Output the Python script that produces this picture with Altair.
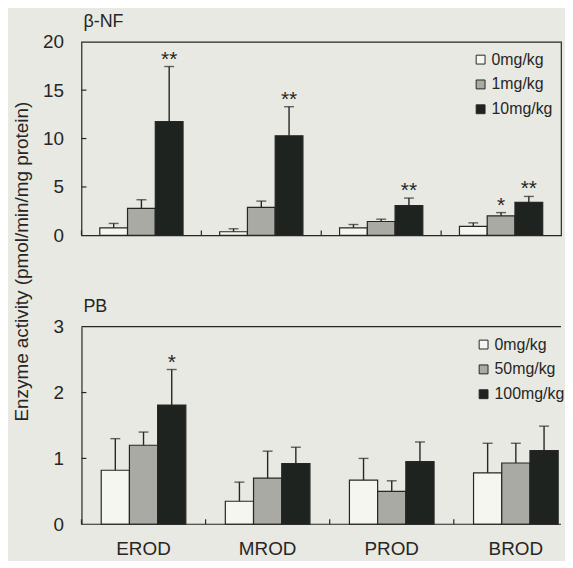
import altair as alt
import pandas as pd

categories = ["EROD", "MROD", "PROD", "BROD"]

# beta-NF panel
bnf_doses = ["0mg/kg", "1mg/kg", "10mg/kg"]
bnf_mean_0 = [0.78, 0.37, 0.78, 0.92]
bnf_mean_1 = [2.79, 2.90, 1.43, 2.01]
bnf_mean_10 = [11.75, 10.29, 3.07, 3.41]
bnf_sd_0 = [0.45, 0.31, 0.34, 0.37]
bnf_sd_1 = [0.89, 0.64, 0.24, 0.34]
bnf_sd_10 = [5.69, 3.00, 0.78, 0.61]
bnf_sig_0 = ["", "", "", ""]
bnf_sig_1 = ["", "", "", "*"]
bnf_sig_10 = ["**", "**", "**", "**"]
bnf_ticks = [5, 10, 15]

# PB panel
pb_doses = ["0mg/kg", "50mg/kg", "100mg/kg"]
pb_mean_0 = [0.82, 0.35, 0.67, 0.78]
pb_mean_50 = [1.20, 0.70, 0.50, 0.93]
pb_mean_100 = [1.81, 0.92, 0.95, 1.12]
pb_sd_0 = [0.48, 0.29, 0.33, 0.45]
pb_sd_50 = [0.20, 0.41, 0.16, 0.30]
pb_sd_100 = [0.54, 0.25, 0.30, 0.37]
pb_sig_0 = ["", "", "", ""]
pb_sig_50 = ["", "", "", ""]
pb_sig_100 = ["*", "", "", ""]
pb_ticks = [1, 2]

FONT = "Liberation Sans"
BG = "#e8e9e2"
INK = "#262626"
FILLS = ["#f6f6f1", "#a9aaa3", "#1e2320"]


def make_df(doses, means, sds, sigs):
    rows = []
    for d, m, s, g in zip(doses, means, sds, sigs):
        for c, mv, sv, gv in zip(categories, m, s, g):
            rows.append(dict(cat=c, dose=d, mean=mv, upper=mv + sv, sig=gv))
    return pd.DataFrame(rows)


def panel(df, doses, ymax, ticks, title, width, height, xscale, pad_outer,
          legend_x, legend_y, bottom_labels, yaxis):
    xoff = alt.XOffset("dose:N", sort=doses,
                       scale=alt.Scale(paddingInner=0, paddingOuter=pad_outer))
    xenc = alt.X("cat:N", sort=categories, scale=xscale, axis=None)
    xplain = alt.X("cat:N", sort=categories)

    bars = alt.Chart(df).mark_bar(stroke=INK, strokeWidth=1.2).encode(
        x=xenc,
        xOffset=xoff,
        y=alt.Y("mean:Q", scale=alt.Scale(domain=[0, ymax], nice=False),
                axis=yaxis),
        color=alt.Color("dose:N", sort=doses,
                        scale=alt.Scale(domain=doses, range=FILLS),
                        legend=alt.Legend(title=None, orient="none",
                                          legendX=legend_x, legendY=legend_y,
                                          symbolType="square", symbolSize=80,
                                          symbolStrokeColor=INK,
                                          symbolStrokeWidth=1,
                                          labelFontSize=16, labelFont=FONT,
                                          labelColor=INK, rowPadding=9,
                                          padding=0, labelOffset=3)),
    )
    err = alt.Chart(df).mark_rule(color=INK, strokeWidth=1.4).encode(
        x=xplain, xOffset=xoff, y="mean:Q", y2="upper:Q")
    cap = alt.Chart(df).mark_tick(color=INK, thickness=1.4, size=10,
                                  orient="horizontal").encode(
        x=xplain, xOffset=xoff, y="upper:Q")
    stars = alt.Chart(df).mark_text(font=FONT, fontSize=21, color=INK,
                                    baseline="alphabetic", dy=-1).encode(
        x=xplain, xOffset=xoff, y="upper:Q", text="sig:N")
    cat_df = pd.DataFrame({"cat": categories})
    xt = alt.Chart(cat_df).mark_rule(color=INK, strokeWidth=1.2).encode(
        x=alt.X("cat:N", sort=categories, bandPosition=0),
        y=alt.value(height - 5), y2=alt.value(height))
    yt = alt.Chart(pd.DataFrame({"mean": ticks})).mark_rule(
        color=INK, strokeWidth=1.2).encode(
        y="mean:Q", x=alt.value(0), x2=alt.value(5))
    layers = [bars, err, cap, stars, xt, yt]
    if bottom_labels:
        one = pd.DataFrame({"a": [0]})
        top_line = alt.Chart(one).mark_rule(color=INK, strokeWidth=1.2).encode(
            y=alt.value(0))
        base_line = alt.Chart(one).mark_rule(color=INK, strokeWidth=1.2).encode(
            y=alt.value(height))
        cat_labels = alt.Chart(cat_df).mark_text(
            font=FONT, fontSize=19, color=INK, baseline="top").encode(
            x=xplain, y=alt.value(height + 16), text="cat:N")
        layers += [top_line, base_line, cat_labels]
    ch = alt.layer(*layers).properties(
        width=width, height=height,
        title=alt.TitleParams(title, anchor="start", frame="group",
                              fontSize=18, font=FONT, fontWeight="normal",
                              color=INK, offset=2, dx=2),
    )
    return ch


bnf_df = make_df(bnf_doses, [bnf_mean_0, bnf_mean_1, bnf_mean_10],
                 [bnf_sd_0, bnf_sd_1, bnf_sd_10],
                 [bnf_sig_0, bnf_sig_1, bnf_sig_10])
pb_df = make_df(pb_doses, [pb_mean_0, pb_mean_50, pb_mean_100],
                [pb_sd_0, pb_sd_50, pb_sd_100],
                [pb_sig_0, pb_sig_50, pb_sig_100])

top_axis = alt.Axis(title="Enzyme activity (pmol/min/mg protein)",
                    titleFontSize=19, titleFont=FONT, titleFontWeight="normal",
                    titleColor=INK, titleX=-50, titleY=221,
                    values=[0, 5, 10, 15, 20], format="d", ticks=False,
                    grid=False, domain=False, labelFontSize=19, labelFont=FONT,
                    labelColor=INK, labelPadding=18)
bot_axis = alt.Axis(title=None, values=[0, 1, 2, 3], format="d", ticks=False,
                    grid=False, domain=True, domainColor=INK, domainWidth=1.2,
                    labelFontSize=19, labelFont=FONT, labelColor=INK,
                    labelPadding=18)

top = panel(bnf_df, bnf_doses, 20, bnf_ticks, "β-NF",
            483, 195, alt.Scale(paddingInner=0, paddingOuter=0), 0.66,
            394, 10, False, top_axis).properties(
    view=alt.ViewBackground(stroke=INK, strokeWidth=1.2))

bottom = panel(pb_df, pb_doses, 3, pb_ticks, "PB",
               483, 199, alt.Scale(paddingInner=0, paddingOuter=0, range=[0, 500]),
               0.70, 397, 10, True, bot_axis)

chart = alt.vconcat(top, bottom, spacing=92, bounds="flush").resolve_scale(
    color="independent", x="independent", y="independent",
    xOffset="independent"
).configure(background=BG, padding={"left": 4, "top": 2, "right": 0, "bottom": 0}
).configure_view(stroke=None)

chart.save("out.html", embed_options={"renderer": "svg", "actions": False})
